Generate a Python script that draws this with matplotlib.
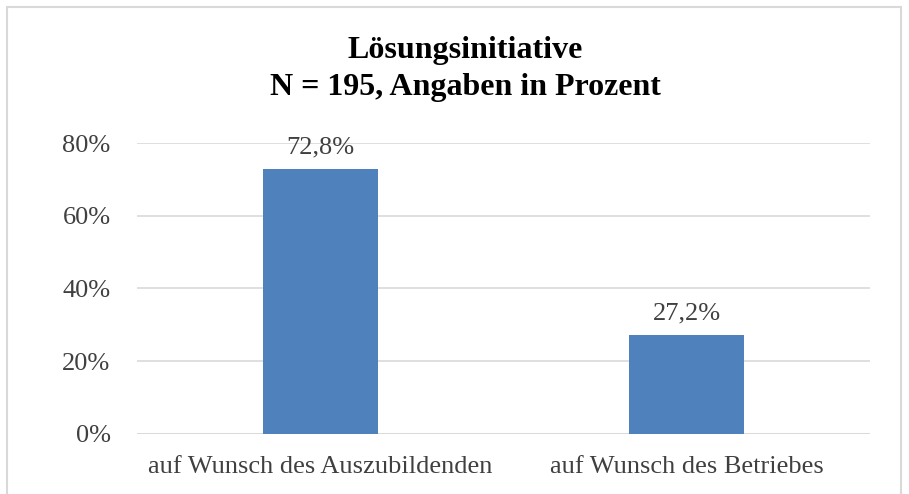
import matplotlib.pyplot as plt
from matplotlib.patches import Rectangle

# Data
categories = ["auf Wunsch des Auszubildenden", "auf Wunsch des Betriebes"]
values = [72.8, 27.2]
labels = ["72,8%", "27,2%"]
yticks = [0, 20, 40, 60, 80]

plt.rcParams['font.family'] = ['Liberation Serif', 'DejaVu Serif']

fig = plt.figure(figsize=(9.09, 4.94), dpi=100)
ax = fig.add_axes([0.1507, 0.1215, 0.8063, 0.589])

x = range(len(categories))
bars = ax.bar(x, values, width=0.314, color='#4F81BD', zorder=3)

for b, lab in zip(bars, labels):
    ax.text(b.get_x() + b.get_width() / 2, b.get_height() + 3.0, lab,
            ha='center', va='bottom', fontsize=19, color='#404040')

ax.set_xlim(-0.5, 1.5)
ax.set_ylim(0, 80)
ax.set_yticks(yticks)
ax.set_yticklabels([f"{t}%" for t in yticks])
ax.set_xticks(list(x))
ax.set_xticklabels(categories)
ax.tick_params(axis='both', length=0, labelsize=19, labelcolor='#404040')
ax.tick_params(axis='y', pad=19)
ax.tick_params(axis='x', pad=16)
ax.grid(axis='y', color='#D9D9D9', linewidth=1.2, zorder=0)
ax.set_axisbelow(True)
for s in ax.spines.values():
    s.set_visible(False)
ax.axhline(0, color='#D9D9D9', linewidth=1.2, zorder=1)

fig.text(0.512, 0.897, "Lösungsinitiative", ha='center', va='center',
         fontsize=23, fontweight='bold', color='black')
fig.text(0.512, 0.822, "N = 195, Angaben in Prozent", ha='center', va='center',
         fontsize=23, fontweight='bold', color='black')

# outer frame
fig.patches.append(Rectangle((7 / 909, -0.01), 894 / 909, 1 - 7 / 494 + 0.01,
                             transform=fig.transFigure, fill=False,
                             edgecolor='#D9D9D9', linewidth=1.5))

fig.savefig("out.png", dpi=100)
